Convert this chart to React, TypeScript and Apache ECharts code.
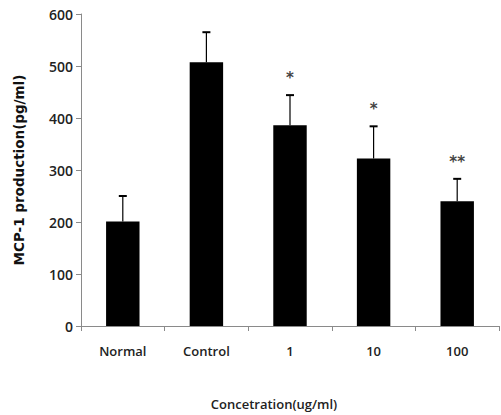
import React, { useEffect, useRef } from "react";
import * as echarts from "echarts";

const categories = ["Normal", "Control", "1", "10", "100"];
const means = [201, 507, 386, 322, 240];
const errors = [49, 58, 58, 62, 43];
const stars = ["", "", "*", "*", "**"];
const yTicks = { min: 0, max: 600, interval: 100 };

export default function App() {
  const ref = useRef<HTMLDivElement>(null);
  useEffect(() => {
    if (!ref.current) return;
    document.body.style.margin = "0";
    document.body.style.overflow = "hidden";
    const chart = echarts.init(ref.current, undefined, { renderer: "svg" });
    const errData = categories.map((_, i) => [i, means[i], errors[i], stars[i]]);
    chart.setOption({
      animation: false,
      backgroundColor: "#ffffff",
      grid: { left: 81, right: 2, top: 14, bottom: 88 },
      xAxis: {
        type: "category",
        data: categories,
        name: "Concetration(ug/ml)",
        nameLocation: "middle",
        nameGap: 71,
        nameTextStyle: {
          fontFamily: "Open Sans",
          fontWeight: 600,
          fontSize: 13,
          color: "#222",
          padding: [0, 32, 0, 0],
        },
        axisLine: { lineStyle: { color: "#8a8a8a", width: 1 } },
        axisTick: { show: true, length: 5, alignWithLabel: false, lineStyle: { color: "#8a8a8a" } },
        axisLabel: {
          fontFamily: "Open Sans",
          fontWeight: 600,
          fontSize: 13,
          color: "#222",
          margin: 18,
        },
      },
      yAxis: {
        type: "value",
        min: yTicks.min,
        max: yTicks.max,
        interval: yTicks.interval,
        name: "MCP-1 production(pg/ml)",
        nameLocation: "middle",
        nameGap: 55,
        nameTextStyle: {
          fontFamily: "DejaVu Sans",
          fontWeight: "bold",
          fontSize: 13.5,
          color: "#111",
        },
        splitLine: { show: false },
        axisLine: { show: true, lineStyle: { color: "#8a8a8a", width: 1 } },
        axisTick: { show: true, length: 5, lineStyle: { color: "#8a8a8a" } },
        axisLabel: {
          fontFamily: "Open Sans",
          fontWeight: 600,
          fontSize: 14,
          color: "#222",
          margin: 8,
        },
      },
      series: [
        {
          type: "bar",
          data: means,
          barWidth: "40%",
          itemStyle: { color: "#000000" },
        },
        {
          type: "custom",
          data: errData,
          z: 5,
          renderItem: (params: any, api: any) => {
            const idx = api.value(0);
            const m = api.value(1);
            const e = api.value(2);
            const s = errData[params.dataIndex][3] as string;
            const base = api.coord([idx, m]);
            const top = api.coord([idx, m + e]);
            const half = 4;
            const children: any[] = [
              {
                type: "line",
                shape: { x1: base[0], y1: base[1], x2: top[0], y2: top[1] },
                style: { stroke: "#000", lineWidth: 1.2 },
              },
              {
                type: "line",
                shape: { x1: top[0] - half, y1: top[1], x2: top[0] + half, y2: top[1] },
                style: { stroke: "#000", lineWidth: 2 },
              },
            ];
            if (s) {
              children.push({
                type: "text",
                x: top[0],
                y: top[1] - 17,
                style: {
                  text: s,
                  fill: "#444",
                  fontSize: 15,
                  fontWeight: "bold",
                  fontFamily: "DejaVu Sans",
                  align: "center",
                  verticalAlign: "middle",
                },
              });
            }
            return { type: "group", children };
          },
        },
      ],
    });
    return () => chart.dispose();
  }, []);
  return <div ref={ref} style={{ position: "absolute", left: 0, top: 0, width: 501, height: 415 }} />;
}
